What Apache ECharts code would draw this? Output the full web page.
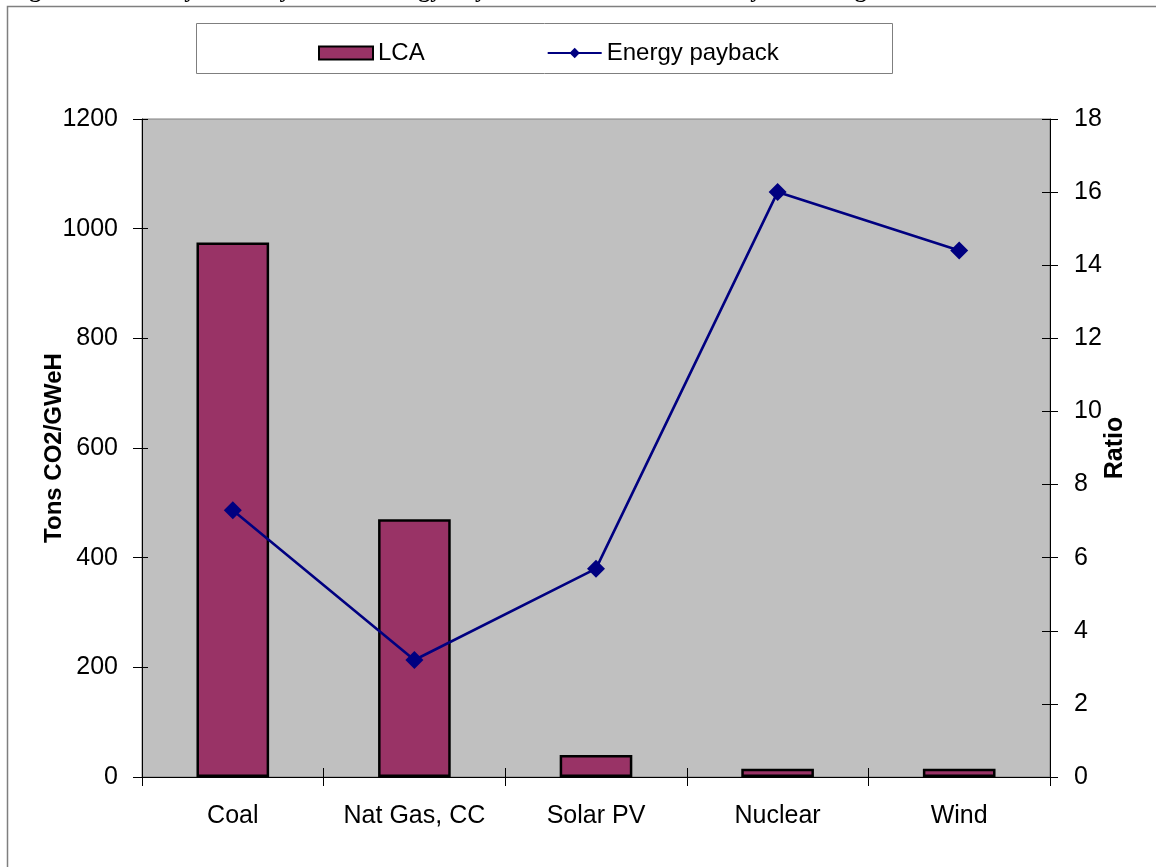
<!DOCTYPE html>
<html>
<head>
<meta charset="utf-8">
<title>Life Cycle Analysis and Energy Payback</title>
<script src="https://cdn.jsdelivr.net/npm/echarts@6/dist/echarts.min.js"></script>
<style>
  html, body { margin: 0; padding: 0; background: #ffffff; }
  #chart { width: 1156px; height: 867px; }
</style>
</head>
<body>
<div id="chart"></div>
<script>
// Generation technologies compared
const categories = ['Coal', 'Nat Gas, CC', 'Solar PV', 'Nuclear', 'Wind'];
// Life-cycle emissions, tons CO2 per GWeH
const lcaValues = [975, 470, 40, 15, 15];
// Energy payback ratio
const paybackValues = [7.3, 3.2, 5.7, 16, 14.4];
// Axis ranges
const leftAxis = { min: 0, max: 1200, interval: 200 };
const rightAxis = { min: 0, max: 18, interval: 2 };

const FONT = '"Liberation Sans", Arial, sans-serif';
const grid = { left: 142, right: 106, top: 119, bottom: 90 };

const chart = echarts.init(document.getElementById('chart'), null, { renderer: 'canvas' });

const plain = (v) => String(v);
const tickLabel = { color: '#000', fontFamily: FONT, fontSize: 25 };

chart.setOption({
  animation: false,
  backgroundColor: '#ffffff',
  graphic: [
    {
      type: 'rect', z: -10,
      shape: { x: 7.5, y: 6.5, width: 1200, height: 900 },
      style: { fill: 'none', stroke: '#7f7f7f', lineWidth: 1.5 }
    },
    {
      type: 'text', z: 10,
      x: 8, y: 3,
      style: {
        text: 'Figure 10: Life Cycle Analysis and Energy Payback for various electricity technologies',
        font: 'bold 24px "Liberation Serif", "Times New Roman", serif',
        fill: '#000',
        textVerticalAlign: 'bottom'
      }
    },
    {
      type: 'rect', z: -5,
      shape: { x: 196.5, y: 23.5, width: 696, height: 50 },
      style: { fill: '#ffffff', stroke: '#7f7f7f', lineWidth: 1 }
    }
  ],
  legend: {
    left: 313, top: 36,
    itemWidth: 54, itemHeight: 13, itemGap: 122,
    textStyle: { color: '#000', fontFamily: FONT, fontSize: 24 },
    data: [
      { name: 'LCA', icon: 'rect', itemStyle: { color: '#993366', borderColor: '#000', borderWidth: 2 } },
      { name: 'Energy payback' }
    ]
  },
  grid: Object.assign({ show: true, backgroundColor: '#c0c0c0', borderColor: '#808080', borderWidth: 1 }, grid),
  xAxis: [
    {
      type: 'category', data: categories,
      axisLine: { lineStyle: { color: '#000', width: 1 } },
      axisTick: { show: true, length: 9, lineStyle: { color: '#000' } },
      axisLabel: Object.assign({ margin: 27, interval: 0 }, tickLabel)
    },
    {
      // inward half of the crossing category ticks
      type: 'category', data: categories, position: 'bottom',
      axisLine: { show: false },
      axisTick: { show: true, inside: true, length: 9, lineStyle: { color: '#000' } },
      axisLabel: { show: false }
    }
  ],
  yAxis: [
    {
      type: 'value', position: 'left',
      min: leftAxis.min, max: leftAxis.max, interval: leftAxis.interval,
      name: 'Tons CO2/GWeH', nameLocation: 'middle', nameRotate: 90, nameGap: 76,
      nameMoveOverlap: false,
      nameTextStyle: { color: '#000', fontFamily: FONT, fontSize: 24, fontWeight: 'bold' },
      axisLine: { show: true, lineStyle: { color: '#000', width: 1 } },
      axisTick: { show: true, length: 9, lineStyle: { color: '#000' } },
      axisLabel: Object.assign({ margin: 24, formatter: plain }, tickLabel),
      splitLine: { show: false }
    },
    {
      type: 'value', position: 'right',
      min: rightAxis.min, max: rightAxis.max, interval: rightAxis.interval,
      name: 'Ratio', nameLocation: 'middle', nameRotate: 90, nameGap: 53,
      nameMoveOverlap: false,
      nameTextStyle: { color: '#000', fontFamily: FONT, fontSize: 25, fontWeight: 'bold' },
      axisLine: { show: true, lineStyle: { color: '#000', width: 1 } },
      axisTick: { show: true, length: 8, lineStyle: { color: '#000' } },
      axisLabel: Object.assign({ margin: 24, formatter: plain }, tickLabel),
      splitLine: { show: false }
    },
    {
      // inward half of the crossing left ticks
      type: 'value', position: 'left',
      min: leftAxis.min, max: leftAxis.max, interval: leftAxis.interval,
      axisLine: { show: false },
      axisTick: { show: true, inside: true, length: 6, lineStyle: { color: '#000' } },
      axisLabel: { show: false }, splitLine: { show: false }
    },
    {
      // inward half of the crossing right ticks
      type: 'value', position: 'right',
      min: rightAxis.min, max: rightAxis.max, interval: rightAxis.interval,
      axisLine: { show: false },
      axisTick: { show: true, inside: true, length: 8, lineStyle: { color: '#000' } },
      axisLabel: { show: false }, splitLine: { show: false }
    }
  ],
  series: [
    {
      name: 'LCA', type: 'bar', xAxisIndex: 0, yAxisIndex: 0,
      data: lcaValues,
      barCategoryGap: '60%',
      itemStyle: { color: '#993366', borderColor: '#000', borderWidth: 2.5 }
    },
    {
      name: 'Energy payback', type: 'line', xAxisIndex: 0, yAxisIndex: 1,
      data: paybackValues,
      symbol: 'diamond', symbolSize: 18,
      lineStyle: { color: '#000080', width: 2.6 },
      itemStyle: { color: '#000080' }
    }
  ]
});
</script>
</body>
</html>
